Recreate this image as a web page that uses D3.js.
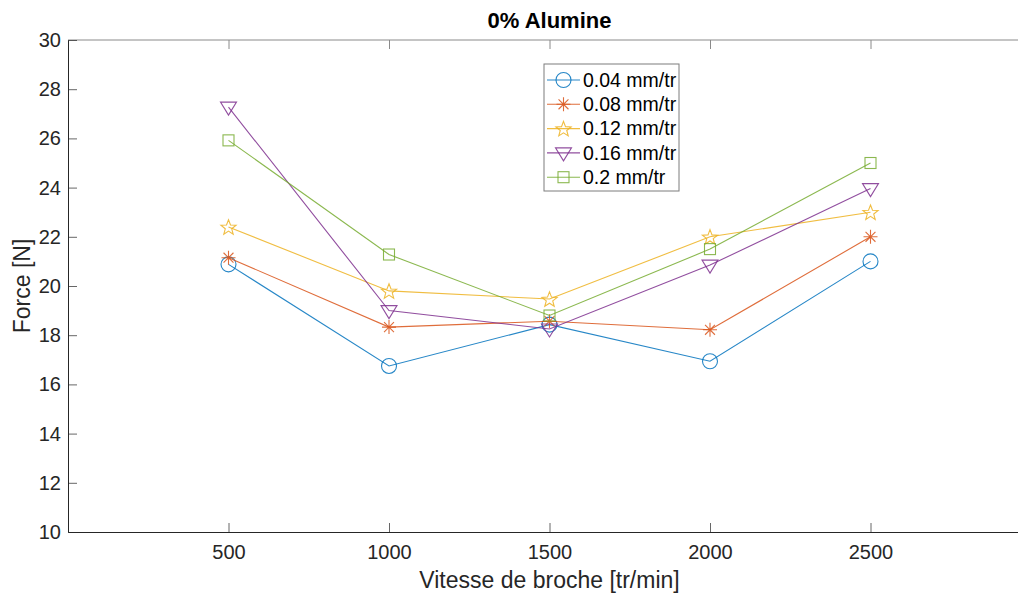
<!DOCTYPE html>
<html>
<head>
<meta charset="utf-8">
<script src="https://cdn.jsdelivr.net/npm/d3@7"></script>
<style>
  body { margin: 0; background: #fff; }
  svg { font-family: "Liberation Sans", Arial, sans-serif; }
</style>
</head>
<body>
<div id="chart"></div>
<script>
// data
var speeds = [500, 1000, 1500, 2000, 2500];
var xTicks = [500, 1000, 1500, 2000, 2500];
var yTicks = [10, 12, 14, 16, 18, 20, 22, 24, 26, 28, 30];
var seriesNames = ["0.04 mm/tr", "0.08 mm/tr", "0.12 mm/tr", "0.16 mm/tr", "0.2 mm/tr"];
var f004 = [20.88, 16.75, 18.43, 16.94, 21.0];
var f008 = [21.15, 18.33, 18.57, 18.22, 22.0];
var f012 = [22.4, 19.8, 19.47, 22.0, 23.0];
var f016 = [27.27, 19.0, 18.25, 20.85, 23.96];
var f020 = [25.92, 21.28, 18.8, 21.5, 25.0];

var colors = ["#0072BD", "#D95319", "#EDB120", "#7E2F8E", "#77AC30"];
var markers = ["circle", "asterisk", "star", "triangle", "square"];

var W = 1018, H = 595;
var margin = { top: 40, left: 68, bottom: 63, right: -13 };
var width = W - margin.left - margin.right,   // box runs off the right edge
    height = H - margin.top - margin.bottom;

var series = [f004, f008, f012, f016, f020].map(function (vals, i) {
    return {
        name: seriesNames[i],
        color: colors[i],
        marker: markers[i],
        values: vals.map(function (v, j) { return { x: speeds[j], y: v }; })
    };
});

var svg = d3.select("#chart").append("svg")
    .attr("width", W).attr("height", H);

var g = svg.append("g")
    .attr("transform", "translate(" + margin.left + "," + margin.top + ")");

var x = d3.scaleLinear().domain([0, 3000]).range([0, width]);
var y = d3.scaleLinear().domain([10, 30]).range([height, 0]);

var axisColor = "#262626";
var lw = 1.1, op = 0.85;

// box top / right
g.append("line").attr("x1", 0).attr("x2", width).attr("y1", 0).attr("y2", 0)
    .attr("stroke", "#8a8a8a").attr("stroke-width", 1);
g.append("line").attr("x1", width).attr("x2", width).attr("y1", 0).attr("y2", height)
    .attr("stroke", "#8a8a8a").attr("stroke-width", 1);

// bottom axis, inward ticks
var xAxis = g.append("g")
    .attr("transform", "translate(0," + height + ")")
    .call(d3.axisBottom(x).tickValues(xTicks).tickFormat(d3.format("d"))
        .tickSize(-9).tickPadding(13).tickSizeOuter(0));
// top mirrored ticks
g.append("g")
    .call(d3.axisTop(x).tickValues(xTicks).tickSize(-9).tickFormat("").tickSizeOuter(0))
    .call(function (a) { a.select(".domain").remove(); a.selectAll("line").attr("stroke", "#8a8a8a"); });

var yAxis = g.append("g")
    .call(d3.axisLeft(y).tickValues(yTicks).tickSize(-9).tickPadding(7).tickSizeOuter(0));

[xAxis, yAxis].forEach(function (a) {
    a.attr("font-size", null).attr("font-family", null);
    a.select(".domain").attr("stroke", axisColor).attr("stroke-width", 1);
    a.selectAll(".tick line").attr("stroke", axisColor).attr("stroke-opacity", 0.7);
    a.selectAll(".tick text")
        .attr("fill", axisColor)
        .style("font-size", "20px");
});

// marker drawing
function drawMarker(sel, type, color) {
    var m;
    if (type === "circle") {
        m = sel.append("circle").attr("r", 7.5);
    } else if (type === "square") {
        m = sel.append("rect").attr("x", -5.5).attr("y", -5.5).attr("width", 11).attr("height", 11);
    } else if (type === "triangle") {
        m = sel.append("path").attr("d", "M-8,-5L8,-5L0,8Z");
    } else if (type === "star") {
        var pts = [];
        for (var k = 0; k < 10; k++) {
            var r = k % 2 === 0 ? 8 : 3.4;
            var a = -Math.PI / 2 + k * Math.PI / 5;
            pts.push([r * Math.cos(a), r * Math.sin(a) + 0.8]);
        }
        m = sel.append("path").attr("d", "M" + pts.join("L") + "Z");
    } else if (type === "asterisk") {
        var d = "";
        [0, 45, 90, 135].forEach(function (deg) {
            var a = deg * Math.PI / 180;
            d += "M" + (-7 * Math.cos(a)) + "," + (-7 * Math.sin(a)) + "L" + (7 * Math.cos(a)) + "," + (7 * Math.sin(a));
        });
        m = sel.append("path").attr("d", d);
    }
    m.attr("fill", "none").attr("stroke", color).attr("stroke-width", lw).attr("stroke-opacity", op);
}

var line = d3.line()
    .x(function (d) { return x(d.x); })
    .y(function (d) { return y(d.y); });

series.forEach(function (s) {
    g.append("path")
        .datum(s.values)
        .attr("fill", "none")
        .attr("stroke", s.color)
        .attr("stroke-width", lw)
        .attr("stroke-opacity", op)
        .attr("d", line);
    g.selectAll(null)
        .data(s.values)
        .enter().append("g")
        .attr("transform", function (d) { return "translate(" + x(d.x) + "," + y(d.y) + ")"; })
        .each(function () { drawMarker(d3.select(this), s.marker, s.color); });
});

// title and axis labels
svg.append("text")
    .attr("x", margin.left + x(1500)).attr("y", 28)
    .attr("text-anchor", "middle")
    .attr("fill", "#000")
    .style("font-size", "22px").style("font-weight", "bold")
    .text("0% Alumine");

svg.append("text")
    .attr("x", margin.left + x(1500)).attr("y", 588)
    .attr("text-anchor", "middle")
    .attr("fill", axisColor)
    .style("font-size", "23px")
    .text("Vitesse de broche [tr/min]");

svg.append("text")
    .attr("transform", "translate(30," + (margin.top + height / 2) + ") rotate(-90)")
    .attr("text-anchor", "middle")
    .attr("fill", axisColor)
    .style("font-size", "23px")
    .text("Force [N]");

// legend
var legend = svg.append("g").attr("transform", "translate(544,64)");
legend.append("rect")
    .attr("width", 135).attr("height", 127)
    .attr("fill", "#fff").attr("stroke", "#262626").attr("stroke-opacity", 0.6).attr("stroke-width", 1);

series.forEach(function (s, i) {
    var row = legend.append("g").attr("transform", "translate(0," + (16 + i * 24.3) + ")");
    row.append("line").attr("x1", 3).attr("x2", 36).attr("y1", 0).attr("y2", 0)
        .attr("stroke", s.color).attr("stroke-width", lw).attr("stroke-opacity", op);
    var m = row.append("g").attr("transform", "translate(19.5,0)");
    drawMarker(m, s.marker, s.color);
    row.append("text").attr("x", 39).attr("y", 0).attr("dy", "0.35em")
        .attr("fill", "#000")
        .style("font-size", "19.5px")
        .text(s.name);
});
</script>
</body>
</html>
